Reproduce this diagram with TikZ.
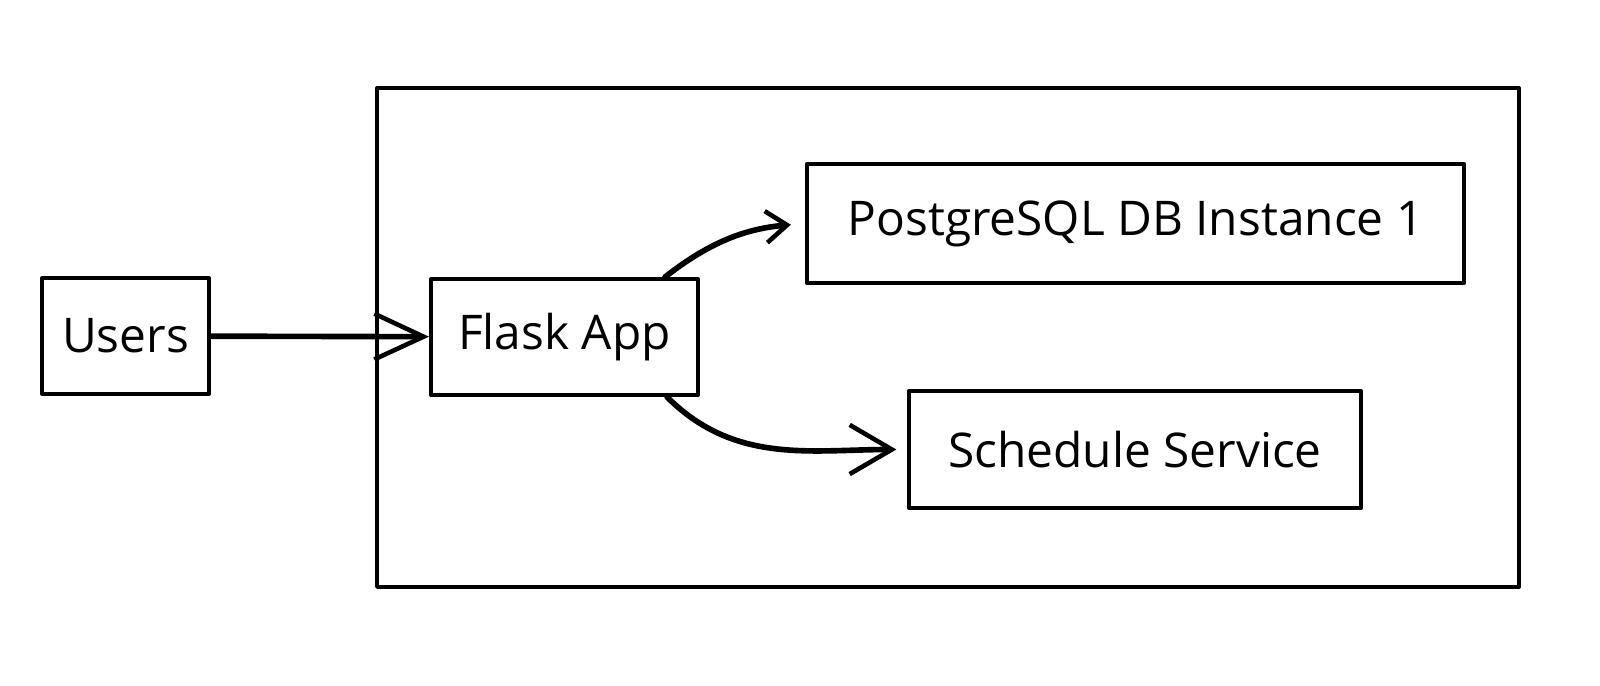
\documentclass[tikz,border=0pt]{standalone}
\usepackage{fontspec}
\setmainfont{Open Sans}
\usetikzlibrary{arrows.meta}
\begin{document}
\begin{tikzpicture}[x=0.01cm,y=-0.01cm,line join=round,line cap=round,
    >={Straight Barb[length=6pt,width=9pt,line width=1.3pt]},
    box/.style={draw,line width=1.1pt,inner sep=0pt,font=\fontsize{13.6}{16}\selectfont},
    link/.style={->,line width=1.6pt}]
    \useasboundingbox (0,0) rectangle (1600,686);
    % outer frame
    \draw[line width=1.1pt] (377,88) rectangle (1519,587);
    \node[box,minimum width=1.67cm,minimum height=1.16cm] (users) at (125.5,336) {Users};
    \node[box,minimum width=2.67cm,minimum height=1.16cm] (flask) at (564.5,337) {Flask App};
    \node[box,minimum width=6.57cm,minimum height=1.19cm] (pg) at (1135.5,223.5) {PostgreSQL DB Instance 1};
    \node[box,minimum width=4.52cm,minimum height=1.17cm] (sched) at (1135,449.5) {Schedule Service};
    \draw[link,>={Straight Barb[length=14pt,width=13pt,line width=1.3pt]}] (users) -- (flask);
    \draw[link,shorten >=4pt] ([xshift=-0.35cm]flask.north east) to[out=38,in=185] (pg.west);
    \draw[link,shorten >=3pt,>={Straight Barb[length=12pt,width=14pt,line width=1.3pt]}] ([xshift=-0.33cm]flask.south east) to[out=-45,in=180] (sched.west);
\end{tikzpicture}
\end{document}
